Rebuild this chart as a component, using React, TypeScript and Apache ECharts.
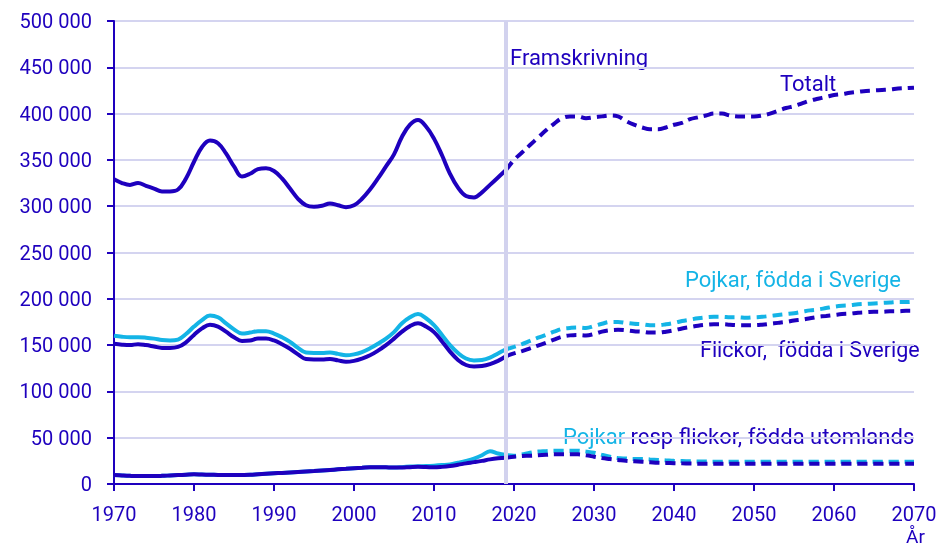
import React, { useEffect, useRef } from 'react';
import * as echarts from 'echarts';

const DARK = '#1E00BE';
const LIGHT = '#14B4E6';
const GRIDC = '#D4D4F0';
const VLINE = '#D2D2EE';
const FONT = 'Roboto, "Noto Sans", sans-serif';

// Historical: 1970..2019, forecast: 2019..2070 (values in thousands)
const HIST_START = 1970;
const FC_START = 2019;
const FORECAST_YEAR = 2019;

const totaltHist = [329, 325, 323, 325, 322, 319, 316, 316, 318, 330, 348, 364, 371, 368, 357, 343, 332, 335, 340, 341, 338, 330, 319, 308, 301, 299.5, 300.5, 303, 301, 299, 301, 308, 318, 330, 343, 356, 375, 388, 393, 386, 373, 355, 335, 320, 311, 309.5, 315, 323, 331, 339];
const totaltFc = [339, 350, 358, 366, 374, 382, 389, 395, 397, 397, 395, 396, 397, 398, 397, 392, 388, 385, 383, 383, 385, 388, 390, 394, 396, 398, 400, 400, 398, 397, 397, 397, 398, 400, 403, 406, 408, 411, 414, 416, 418, 420, 421, 422.5, 423.5, 424.5, 425, 425.5, 426, 427, 427.5, 428];

const pojkarSeHist = [160, 159, 158.5, 158.5, 158, 157, 155.5, 155, 156, 162, 170, 177, 182, 180, 173.5, 167, 162.5, 163.5, 165, 165, 162.5, 158.5, 153.5, 147, 142, 141.5, 141.5, 142, 140.5, 139, 140, 142.5, 146.5, 151.5, 157, 164, 173.5, 180, 183.5, 179, 171.5, 161, 150, 141.5, 135.5, 133.5, 134, 136.5, 141, 145.5];
const pojkarSeFc = [145.5, 148, 151, 154.5, 158, 161, 164.5, 167.5, 168.5, 169, 168.5, 170.5, 173, 175, 175, 174, 173, 172.5, 171.5, 171.5, 172.5, 174, 176, 177.5, 179, 180, 180.5, 180.5, 180, 180, 179.5, 180, 180.5, 181.5, 182.5, 183.5, 184.5, 186, 187.5, 188.5, 190, 191.5, 192.5, 193, 194, 194.5, 195, 195.5, 196, 196.5, 196.5, 197];

const flickorSeHist = [151.5, 150.5, 150, 151, 150, 148.5, 147, 147, 148, 153, 161, 168, 172, 170, 164.5, 158.5, 154.5, 155, 157, 157, 155, 151, 146, 140, 135, 134.5, 134.5, 135, 133.5, 132, 133, 135.5, 139, 144, 150, 157, 164.5, 170.5, 173.5, 170, 164, 154, 143, 134, 128.5, 127, 127.5, 129.5, 133, 138];
const flickorSeFc = [138, 141, 143.5, 146.5, 149.5, 152.5, 156, 159, 160.5, 161, 160.5, 162, 164.5, 166, 166.5, 166, 165, 164.5, 163.5, 163.5, 164.5, 166, 168, 169.5, 171, 172, 172.5, 172.5, 172, 171.5, 171.5, 171.5, 172, 173, 174, 175, 176.5, 177.5, 179, 180.5, 181.5, 182.5, 183.5, 184, 185, 185.5, 186, 186, 186.5, 186.5, 187, 187];

const pojkarUtlHist = [9.7, 9.2, 8.8, 8.6, 8.6, 8.6, 8.8, 9.2, 9.6, 10, 10.4, 10.2, 10, 9.8, 9.7, 9.7, 9.8, 10, 10.5, 11, 11.5, 12, 12.5, 13, 13.5, 14, 14.6, 15.2, 15.8, 16.4, 17, 17.5, 18, 18.2, 18, 17.8, 18.2, 18.8, 19.2, 19.4, 19.8, 20.4, 21.2, 23, 25, 27.5, 31, 35.5, 33, 31.3];
const pojkarUtlFc = [31.3, 30.5, 32, 33.8, 35, 35.5, 36, 36, 36, 36, 35, 33.8, 31.5, 29.5, 28, 27.5, 27, 27, 26.5, 26, 25.5, 25, 24.8, 24.5, 24.3, 24.2, 24, 24, 24, 24, 24, 24, 24, 24, 24, 24, 24, 24, 24, 24, 24, 24, 24, 24, 24, 24, 24, 24, 24, 24, 24, 24];

const flickorUtlHist = [9.7, 9.2, 8.8, 8.6, 8.6, 8.6, 8.8, 9.2, 9.6, 10, 10.4, 10.2, 10, 9.8, 9.7, 9.7, 9.8, 10, 10.5, 11, 11.5, 12, 12.5, 13, 13.5, 14, 14.6, 15.2, 15.8, 16.4, 17, 17.5, 18, 18.2, 18, 17.8, 17.8, 18.2, 18.5, 18.3, 18, 18.5, 19.4, 20.8, 22.3, 23.6, 25, 26.6, 27.7, 28.4];
const flickorUtlFc = [28.4, 29.5, 30.2, 30.5, 31, 31.5, 32, 32, 32, 32, 31, 29.5, 28, 27, 26, 25, 24.5, 24, 23.5, 23, 22.8, 22.5, 22.3, 22.2, 22, 22, 22, 22, 22, 22, 22, 22, 22, 22, 22, 22, 22, 22, 22, 22, 22, 22, 22, 22, 22, 22, 22, 22, 22, 22, 22, 22];

const toPairs = (start: number, vals: number[]) => vals.map((v, i) => [start + i, v * 1000]);

const fmtNum = (v: number) => (v === 0 ? '0' : String(v).replace(/\B(?=(\d{3})+(?!\d))/g, ' '));

function lineSeries(name: string, data: number[][], color: string, dashed: boolean, z: number) {
  return {
    name,
    type: 'line',
    data,
    smooth: 0.4,
    showSymbol: false,
    symbol: 'none',
    z,
    lineStyle: { color, width: 4, type: dashed ? [10, 6] : 'solid', cap: 'butt' },
    emphasis: { disabled: true },
  };
}

const LABEL_SIZE = 22;

export default function App() {
  const ref = useRef<HTMLDivElement>(null);
  useEffect(() => {
    if (!ref.current) return;
    const chart = echarts.init(ref.current, null, { renderer: 'svg' });
    const series: any[] = [
      lineSeries('Pojkar utomlands', toPairs(HIST_START, pojkarUtlHist), LIGHT, false, 2),
      lineSeries('Pojkar utomlands fc', toPairs(FC_START, pojkarUtlFc), LIGHT, true, 2),
      lineSeries('Flickor utomlands', toPairs(HIST_START, flickorUtlHist), DARK, false, 3),
      lineSeries('Flickor utomlands fc', toPairs(FC_START, flickorUtlFc), DARK, true, 3),
      lineSeries('Pojkar Sverige', toPairs(HIST_START, pojkarSeHist), LIGHT, false, 2),
      lineSeries('Pojkar Sverige fc', toPairs(FC_START, pojkarSeFc), LIGHT, true, 2),
      lineSeries('Flickor Sverige', toPairs(HIST_START, flickorSeHist), DARK, false, 3),
      lineSeries('Flickor Sverige fc', toPairs(FC_START, flickorSeFc), DARK, true, 3),
      lineSeries('Totalt', toPairs(HIST_START, totaltHist), DARK, false, 3),
      lineSeries('Totalt fc', toPairs(FC_START, totaltFc), DARK, true, 3),
      {
        type: 'line',
        data: [],
        z: 5,
        markLine: {
          silent: true,
          symbol: 'none',
          label: { show: false },
          lineStyle: { color: VLINE, width: 4, type: 'solid' },
          data: [{ xAxis: FORECAST_YEAR }],
        },
      },
    ];
    chart.setOption({
      animation: false,
      grid: { left: 114, right: 34, top: 21, bottom: 63 },
      xAxis: {
        type: 'value',
        min: 1970,
        max: 2070,
        interval: 10,
        axisLine: { show: true, lineStyle: { color: DARK, width: 2 } },
        axisTick: { show: true, length: 7, lineStyle: { color: DARK, width: 2 } },
        axisLabel: { color: DARK, fontSize: 20, fontFamily: FONT, margin: 20, formatter: (v: number) => String(v) },
        splitLine: { show: false },
      },
      yAxis: {
        type: 'value',
        min: 0,
        max: 500000,
        interval: 50000,
        axisLine: { show: true, lineStyle: { color: DARK, width: 2 } },
        axisTick: { show: true, length: 7, lineStyle: { color: DARK, width: 2 } },
        axisLabel: { color: DARK, fontSize: 20, fontFamily: FONT, margin: 22, formatter: fmtNum },
        splitLine: { show: true, lineStyle: { color: GRIDC, width: 2 } },
      },
      graphic: [
        { type: 'text', left: 510, top: 46, style: { text: 'Framskrivning', fill: DARK, fontSize: LABEL_SIZE, fontFamily: FONT } },
        { type: 'text', left: 780, top: 72, style: { text: 'Totalt', fill: DARK, fontSize: LABEL_SIZE, fontFamily: FONT } },
        { type: 'text', left: 685, top: 268, style: { text: 'Pojkar, födda i Sverige', fill: LIGHT, fontSize: LABEL_SIZE, fontFamily: FONT } },
        { type: 'text', left: 700, top: 338, style: { text: 'Flickor,  födda i Sverige', fill: DARK, fontSize: 21.5, fontFamily: FONT } },
        {
          type: 'text',
          left: 563,
          top: 425,
          style: {
            text: '{a|Pojkar} {b|resp flickor, födda utomlands}',
            fontSize: LABEL_SIZE,
            fontFamily: FONT,
            rich: {
              a: { fill: LIGHT, fontSize: LABEL_SIZE, fontFamily: FONT },
              b: { fill: DARK, fontSize: LABEL_SIZE, fontFamily: FONT },
            },
          },
        },
        { type: 'text', left: 906, top: 527, style: { text: 'År', fill: DARK, fontSize: 19, fontFamily: FONT } },
      ],
      series,
    });
    return () => chart.dispose();
  }, []);
  return <div ref={ref} style={{ position: 'fixed', left: 0, top: 0, width: 948, height: 547 }} />;
}
